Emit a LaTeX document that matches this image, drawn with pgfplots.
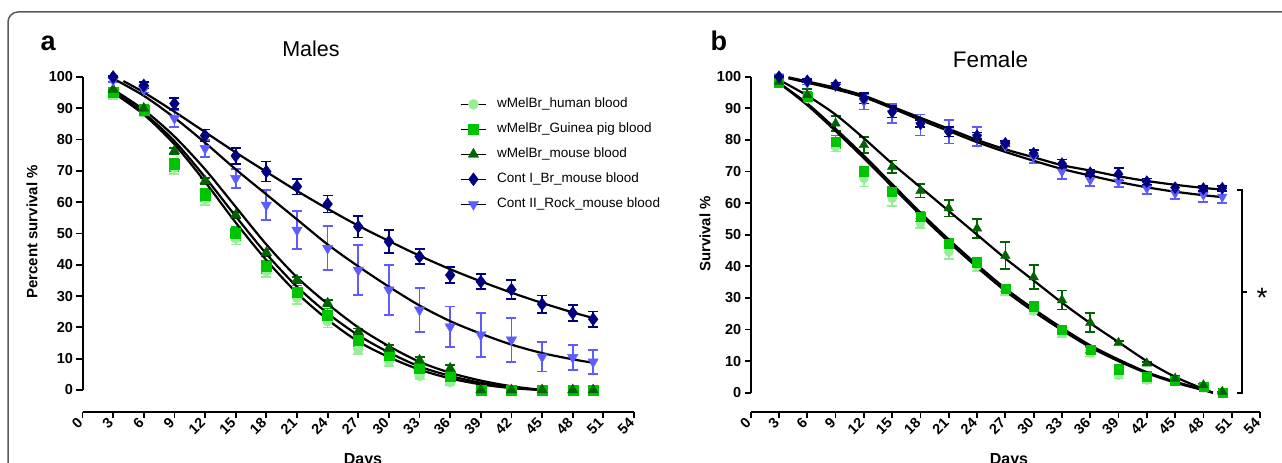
\documentclass[border=0pt]{standalone}
\usepackage{fontspec}
\setmainfont{Liberation Sans}
\usepackage{pgfplots}
\pgfplotsset{compat=1.18}

\definecolor{humanC}{RGB}{150,238,150}
\definecolor{guineaC}{RGB}{0,196,0}
\definecolor{mouseC}{RGB}{0,100,0}
\definecolor{contIC}{RGB}{0,0,128}
\definecolor{contIIC}{RGB}{92,92,255}

\pgfplotsset{
  panel/.style={
    scale only axis, clip=false,
    xmin=0, xmax=54, ymax=100,
    xtick={0,3,...,54}, ytick={0,10,...,100},
    axis line style={draw=none},
    tick pos=left, tick align=outside, major tick length=6pt,
    tick style={black, line width=1.8pt},
    tick label style={font=\fontsize{14.5}{15}\selectfont\bfseries},
    /pgf/number format/assume math mode=true,
    xticklabel style={rotate=45, anchor=east},
  },
  ser/.style n args={3}{only marks, mark=#2, color=#1, mark size=#3,
    error bars/.cd, y dir=both, y explicit,
    error bar style={line width=1.7pt, #1},
    error mark options={rotate=90, mark size=5pt, line width=1.7pt, #1},
    /pgfplots/.cd},
  fit/.style={black, line width=2.2pt, smooth, mark=none, forget plot},
}

\begin{document}
\begin{tikzpicture}[x=1pt,y=1pt]

% ---------- panel a ----------
\begin{axis}[panel, at={(82.5pt,51pt)}, anchor=south west,
  width=551.5pt, height=335pt, ymin=-7.03,
  legend image code/.code={\draw[black, line width=1.5pt] (0pt,0pt) -- (25pt,0pt);
    \draw[#1] plot coordinates {(12.5pt,0pt)};},
  legend style={draw=none, fill=none, at={(0.6845,0.943)}, anchor=north west,
    font=\fontsize{13.5}{16}\selectfont, row sep=9pt, inner sep=0pt,
    nodes={inner sep=1.5pt, text height=10pt, text depth=3pt},
    /tikz/every odd column/.append style={column sep=9pt}},
  legend cell align=left]
\addlegendimage{only marks, mark=*, humanC, mark size=5pt}
\addlegendimage{only marks, mark=square*, guineaC, mark size=5pt}
\addlegendimage{only marks, mark=triangle*, mouseC, mark size=6pt}
\addlegendimage{only marks, mark=diamond*, contIC, mark size=6.5pt}
\addlegendimage{only marks, mark=triangle*, mark options={rotate=180}, contIIC, mark size=6pt}
\legend{wMelBr\_human blood, wMelBr\_Guinea pig blood, wMelBr\_mouse blood, Cont I\_Br\_mouse blood, Cont II\_Rock\_mouse blood}

\draw[line width=2.4pt] (rel axis cs:0,0) -- (rel axis cs:1,0);
\draw[line width=2pt] (axis cs:0,0) -- (axis cs:0,100);

% wMelBr human blood
\addplot[forget plot, ser={humanC}{*}{5pt}] table[x=d, y=v, y error=e] {
d v e
3 94.5 1.5
6 89 1.5
9 71 2
12 61 2
15 48.5 2
18 38 2
21 29.5 2
24 22 2
27 13 1.5
30 9.2 1.5
33 4.5 1
36 2.5 1
39 0 0
42 0 0
45 0 0
48 0 0
50 0 0
};
% wMelBr Guinea pig blood
\addplot[forget plot, ser={guineaC}{square*}{5pt}] table[x=d, y=v, y error=e] {
d v e
3 95 1
6 89.5 1.5
9 72 2
12 62.3 2
15 50 2
18 39.4 2
21 31.4 2
24 24 2
27 16 2
30 11.2 1.5
33 7 1.5
36 4.3 1
39 0 0
42 0 0
45 0 0
48 0 0
50 0 0
};
% wMelBr mouse blood
\addplot[forget plot, ser={mouseC}{triangle*}{6pt}] table[x=d, y=v, y error=e] {
d v e
3 96 0.5
6 90 0.5
9 76.4 1
12 66.8 1
15 55.9 1
18 43.9 1
21 35.1 1
24 27.7 1
27 18.6 1
30 13.3 1
33 9.5 1
36 6.9 1
39 0 0
42 0 0
45 0 0
48 0 0
50 0 0
};
% Cont II Rock mouse blood
\addplot[forget plot, ser={contIIC}{triangle*}{6pt}, mark options={rotate=180}] table[x=d, y=v, y error=e] {
d v e
3 99 0.5
6 96 1
9 86.8 2.7
12 77.2 2.7
15 67.6 3
18 59.1 4.8
21 51.1 6
24 45.3 7
27 38.3 8
30 32 8
33 25.6 7
36 20.2 6.5
39 17.6 7
42 16 7
45 10.6 4.7
48 10.4 4
50 9 3.8
};
% Cont I Br mouse blood
\addplot[forget plot, ser={contIC}{diamond*}{6.5pt}] table[x=d, y=v, y error=e] {
d v e
3 100 0.3
6 97.3 1
9 91.5 1.8
12 81.3 1.9
15 74.8 2.5
18 69.8 3.2
21 65 2.5
24 59.4 2.7
27 52.2 3.5
30 47.4 3.7
33 42.6 2.4
36 36.7 2.5
39 34.6 2.4
42 32.1 3
45 27.4 2.8
48 24.6 2.5
50 22.6 2.5
};
% fitted curves
\addplot[fit] coordinates {(3,95) (6,88) (9,78.5) (12,66.5) (15,53.5) (18,41.5) (21,31) (24,22.5) (27,15.5) (30,10.5) (33,6.5) (36,3.7) (39,1.8) (42,0.6) (45,0)};
\addplot[fit] coordinates {(3,95.5) (6,88.5) (9,79.5) (12,68) (15,55.5) (18,43.5) (21,33) (24,24.5) (27,17.5) (30,12) (33,7.5) (36,4.5) (39,2.3) (42,0.8) (45,0)};
\addplot[fit] coordinates {(3,96) (6,89.5) (9,81) (12,70.5) (15,58.5) (18,46.5) (21,36) (24,27.5) (27,20) (30,14) (33,9) (36,5.5) (39,3) (42,1.2) (45,0)};
\addplot[fit] coordinates {(3,99.5) (6,94) (9,87) (12,79) (15,70.5) (18,62.5) (21,54.5) (24,46.5) (27,39.5) (30,33) (33,27) (36,22) (39,18) (42,14.5) (45,11.8) (48,9.8) (50,8.7)};
\addplot[fit] coordinates {(4,98.7) (6,95.1) (9,88.9) (12,82.4) (15,75.9) (18,69.7) (21,63.6) (24,57.9) (27,52.5) (30,47.6) (33,42.9) (36,38.6) (39,34.7) (42,31.1) (45,27.8) (48,24.8) (50,23)};
\end{axis}

% ---------- panel b ----------
\begin{axis}[panel, at={(750.7pt,51pt)}, anchor=south west,
  width=509.3pt, height=335.3pt, ymin=-6.1]
\draw[line width=2.4pt] (rel axis cs:0,0) -- (rel axis cs:1,0);
\draw[line width=2pt] (axis cs:0,0) -- (axis cs:0,100);

\addplot[forget plot, ser={humanC}{*}{4.5pt}] table[x=d, y=v, y error=e] {
d v e
3 98 0.5
6 93 1
9 77.8 1.5
12 67.8 2.5
15 61.5 2.5
18 53.6 1.5
21 44.6 2.3
24 40 1.5
27 32 1
30 25.8 1
33 18.8 1.2
36 12.5 1
39 5.5 1
42 4 1
45 3.5 0.8
48 1.5 0.5
50 0 0
};
\addplot[forget plot, ser={guineaC}{square*}{4.5pt}] table[x=d, y=v, y error=e] {
d v e
3 98 1
6 93.7 1.5
9 79.4 2
12 69.9 1.5
15 63.6 1.5
18 55.7 1.5
21 47.3 1.5
24 41.1 1.5
27 33 1
30 27.2 1.5
33 19.8 1.2
36 13.5 1
39 7.4 1.5
42 5.2 1.5
45 3.8 1
48 2 0.8
50 0 0
};
\addplot[forget plot, ser={mouseC}{triangle*}{5.5pt}] table[x=d, y=v, y error=e] {
d v e
3 98.4 1
6 94.2 2
9 85.2 2.4
12 78.4 2.6
15 71.5 2
18 63.9 2.1
21 58.4 2.6
24 52 3
27 43.4 4.3
30 36.6 3.8
33 29.3 3
36 22.2 3
39 15.8 0.5
42 9.3 0.5
45 4.5 0.8
48 2.4 0.5
50 0.3 0
};
\addplot[forget plot, ser={contIIC}{triangle*}{5.5pt}, mark options={rotate=180}] table[x=d, y=v, y error=e] {
d v e
3 100 0.5
6 98 0.5
9 97 0.5
12 92.1 2.5
15 88.4 3
18 84.7 3.3
21 82.6 3.7
24 81 3
27 78 1
30 74.7 1.9
33 70 2.3
36 67.3 1.8
39 66.8 1.6
42 64.7 1.9
45 63.1 1.8
48 62.6 2.2
50 62 2
};
\addplot[forget plot, ser={contIC}{diamond*}{6pt}] table[x=d, y=v, y error=e] {
d v e
3 100 0.3
6 98.7 0.5
9 97.4 0.8
12 93.2 1.7
15 88.9 1.8
18 85.2 1.2
21 82.6 1.5
24 81.3 1
27 78.9 0.8
30 75.8 1
33 72.5 1.3
36 69.6 1
39 69.2 2
42 66.8 1
45 64.9 1
48 64.6 0.8
50 64.7 0.8
};
\addplot[fit] coordinates {(3,98) (6,91) (9,82.8) (12,74.2) (15,65.2) (18,56.2) (21,47.7) (24,39.7) (27,32.2) (30,25.7) (33,19.8) (36,14.4) (39,10) (42,6.2) (45,3.2) (48,0.8) (49,0)};
\addplot[fit] coordinates {(3,98) (6,91.5) (9,83.5) (12,75) (15,66) (18,57) (21,48.5) (24,40.5) (27,33) (30,26.5) (33,20.5) (36,15) (39,10.5) (42,6.5) (45,3.5) (48,1) (49,0)};
\addplot[fit] coordinates {(3,99) (6,94) (9,88) (12,80.5) (15,72.5) (18,65) (21,57.5) (24,50) (27,42.5) (30,35.5) (33,28.5) (36,22) (39,16) (42,10) (45,5) (48,1.2) (49,0)};
\addplot[fit] coordinates {(4,99.5) (9,96) (12,93.5) (15,90) (18,86.3) (21,82.8) (24,79.3) (27,76.2) (30,73.4) (33,70.8) (36,68.7) (39,66.7) (42,65) (45,63.6) (48,62.5) (50,61.9)};
\addplot[fit] coordinates {(4,99.8) (9,96.5) (12,94) (15,90.5) (18,87) (21,83.5) (24,80) (27,77) (30,74.5) (33,72) (36,70.3) (39,68.5) (42,67) (45,65.8) (48,64.8) (50,64.3)};
\end{axis}

% ---------- frame and annotations ----------
\draw[line width=1.5pt, black!65] (1300,451) -- (18,451) arc[start angle=90, end angle=180, radius=10] -- (8,-10);
\node[anchor=base west, font=\fontsize{27}{27}\selectfont\bfseries, inner sep=0pt] at (40.5,412) {a};
\node[anchor=base west, font=\fontsize{27}{27}\selectfont\bfseries, inner sep=0pt] at (710.5,412) {b};
\node[anchor=base, font=\fontsize{21.5}{22}\selectfont, inner sep=0pt] at (311,406) {Males};
\node[anchor=base, font=\fontsize{22.5}{23}\selectfont, inner sep=0pt] at (990.5,395) {Female};
\node[rotate=90, font=\fontsize{15}{15}\selectfont\bfseries, inner sep=0pt] at (32,231) {Percent survival \%};
\node[rotate=90, font=\fontsize{15}{15}\selectfont\bfseries, inner sep=0pt] at (705,229) {Survival \%};
\node[anchor=base, font=\fontsize{16}{16}\selectfont\bfseries, inner sep=0pt] at (363,-1.5) {Days};
\node[anchor=base, font=\fontsize{16}{16}\selectfont\bfseries, inner sep=0pt] at (1009,-1.5) {Days};
\draw[line width=2pt] (1237,273) -- (1242,273) -- (1242,70) -- (1237,70);
\draw[line width=2pt] (1242,171) -- (1247,171);
\node[anchor=base, font=\fontsize{28}{28}\selectfont, inner sep=0pt] at (1262,155) {*};

\pgfresetboundingbox
\useasboundingbox (0,0) rectangle (1282,463);
\end{tikzpicture}
\end{document}
